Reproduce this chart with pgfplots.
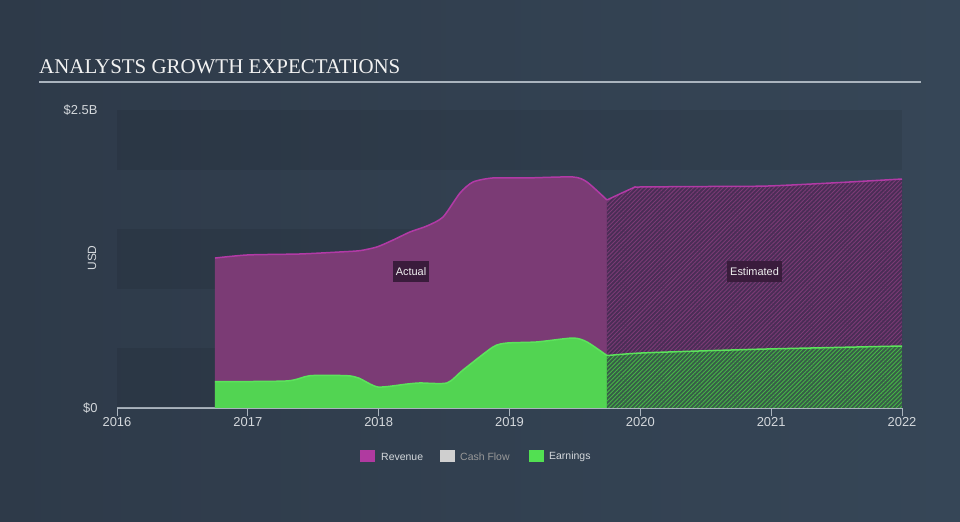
\documentclass[border=0pt]{standalone}
\usepackage{pgfplots}
\pgfplotsset{compat=1.18}
\usepackage{fontspec}
\setmainfont{Liberation Sans}
\newfontfamily\titlefont{Liberation Serif}
\usetikzlibrary{patterns.meta}
\definecolor{bgL}{HTML}{2E3A49}
\definecolor{bgR}{HTML}{364657}
\definecolor{revfill}{HTML}{7B3B75}
\definecolor{revline}{HTML}{B23AA6}
\definecolor{revbase}{HTML}{4A2D56}
\definecolor{earnfill}{HTML}{52D452}
\definecolor{earnline}{HTML}{5CE35C}
\definecolor{earnbase}{HTML}{375D48}
\definecolor{axiscol}{HTML}{AAB4BE}
\definecolor{tickcol}{HTML}{D4D8DC}
\definecolor{labbox}{HTML}{3A1C3C}
\definecolor{legrev}{HTML}{B03AA0}
\definecolor{legcash}{HTML}{CFCFCF}
\definecolor{legearn}{HTML}{52E052}
\pgfplotstableread{
x y
2016.749 1.258
2017.001 1.284
2017.399 1.292
2017.705 1.309
2017.857 1.320
2017.987 1.351
2018.110 1.409
2018.240 1.477
2018.369 1.527
2018.492 1.602
2018.622 1.804
2018.721 1.896
2018.874 1.930
2019.134 1.930
2019.485 1.938
2019.592 1.896
2019.745 1.745
}\revact
\pgfplotstableread{
x y
2019.745 1.745
2019.944 1.846
2019.998 1.854
2020.500 1.858
2020.968 1.862
2021.500 1.890
2022.000 1.921
}\revest
\pgfplotstableread{
x y
2016.749 0.221
2017.300 0.227
2017.475 0.271
2017.758 0.271
2017.850 0.250
2017.995 0.176
2018.217 0.201
2018.316 0.210
2018.522 0.210
2018.645 0.319
2018.874 0.512
2018.981 0.545
2019.210 0.554
2019.485 0.587
2019.592 0.554
2019.745 0.440
}\earnact
\pgfplotstableread{
x y
2019.745 0.440
2019.998 0.461
2020.500 0.480
2020.968 0.495
2021.500 0.508
2022.000 0.520
}\earnest
\begin{document}
\begin{tikzpicture}[x=1bp,y=1bp]
\shade[left color=bgL, right color=bgR] (0,0) rectangle (960,522);
\useasboundingbox (0,0) rectangle (960,522);
\node[anchor=base west, inner sep=0pt, text=white!90!gray] at (39,448) {\titlefont\fontsize{21}{24}\selectfont ANALYSTS GROWTH EXPECTATIONS};
\draw[color=axiscol, line width=1.5bp] (39,440) -- (921,440);
\node[rotate=90, text=tickcol, font=\fontsize{12}{14}\selectfont] at (92,264) {USD};
\begin{axis}[
  at={(117bp,114bp)}, anchor=south west,
  scale only axis, width=785bp, height=298bp,
  xmin=2016, xmax=2022, ymin=0, ymax=2.5,
  axis x line=bottom, axis y line=left,
  x axis line style={-, color=axiscol, line width=1.2bp},
  y axis line style={draw=none},
  xtick={2016,2017,2018,2019,2020,2021,2022},
  xticklabels={2016,2017,2018,2019,2020,2021,2022},
  ytick={0,2.5},
  yticklabels={\$0,\$2.5B},
  tick align=outside, major tick length=8bp,
  xtick style={color=axiscol, line width=1bp},
  ytick style={draw=none},
  ticklabel style={text=tickcol, font=\fontsize{13}{15}\selectfont},
  xticklabel style={yshift=2bp},
  yticklabel style={xshift=-8bp},
]
\fill[black, opacity=0.07] (axis cs:2016,2) rectangle (axis cs:2022,2.5);
\fill[black, opacity=0.07] (axis cs:2016,1) rectangle (axis cs:2022,1.5);
\fill[black, opacity=0.07] (axis cs:2016,0) rectangle (axis cs:2022,0.5);
% revenue fills
\addplot[draw=none, fill=revfill, smooth, tension=0.4] table {\revact} \closedcycle;
\addplot[draw=none, fill=revbase, smooth, tension=0.4] table {\revest} \closedcycle;
\addplot[draw=none, pattern={Lines[angle=45,distance=3pt,line width=0.9pt]}, pattern color=revfill, smooth, tension=0.4] table {\revest} \closedcycle;
% earnings fills
\addplot[draw=none, fill=earnfill, smooth, tension=0.4] table {\earnact} \closedcycle;
\addplot[draw=none, fill=earnbase, smooth, tension=0.4] table {\earnest} \closedcycle;
\addplot[draw=none, pattern={Lines[angle=45,distance=3pt,line width=0.9pt]}, pattern color=earnfill!85!black, smooth, tension=0.4] table {\earnest} \closedcycle;
% lines
\addplot[revline, line width=1.5bp, smooth, tension=0.4] table {\revact};
\addplot[revline, line width=1.5bp, smooth, tension=0.4] table {\revest};
\addplot[earnline, line width=1.5bp, smooth, tension=0.4] table {\earnact};
\addplot[earnline, line width=1.5bp, smooth, tension=0.4] table {\earnest};
\node[fill=labbox, text=white!88!gray, font=\fontsize{11}{13}\selectfont, inner xsep=3bp, minimum height=21bp] at (axis cs:2018.247,1.145) {Actual};
\node[fill=labbox, text=white!88!gray, font=\fontsize{11}{13}\selectfont, inner xsep=3bp, minimum height=21bp] at (axis cs:2020.873,1.145) {Estimated};
\end{axis}
% legend
\fill[legrev] (360,60) rectangle (375,72);
\node[anchor=west, inner sep=0pt, text=tickcol, font=\fontsize{10.5}{12}\selectfont] at (381,65.5) {Revenue};
\fill[legcash] (440,60) rectangle (455,72);
\node[anchor=west, inner sep=0pt, text=gray!80!white, font=\fontsize{10.5}{12}\selectfont] at (460,65.5) {Cash Flow};
\fill[legearn] (529,60) rectangle (544,72);
\node[anchor=west, inner sep=0pt, text=tickcol, font=\fontsize{10.5}{12}\selectfont] at (549,65.5) {Earnings};
\end{tikzpicture}
\end{document}
